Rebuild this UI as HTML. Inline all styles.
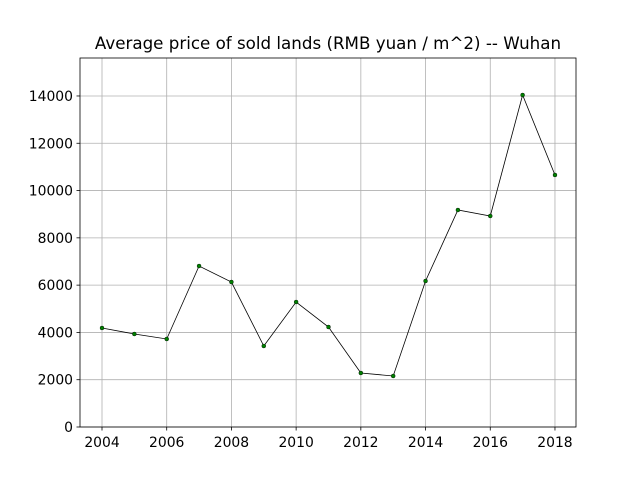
<!DOCTYPE html>
<html><head><meta charset="utf-8"><style>
html,body{margin:0;padding:0;background:#fff;}
svg{display:block;font-family:"DejaVu Sans","Liberation Sans",sans-serif;}
</style></head><body>
<svg id="chart" width="640" height="480"></svg>
<script>
const years = [2004,2005,2006,2007,2008,2009,2010,2011,2012,2013,2014,2015,2016,2017,2018];
const prices = [4187,3933,3722,6809,6132,3426,5286,4229,2284,2157,6175,9177,8924,14041,10658];
const xTicks = [2004,2006,2008,2010,2012,2014,2016,2018];
const yTicks = [0,2000,4000,6000,8000,10000,12000,14000];
const titleText = "Average price of sold lands (RMB yuan / m^2) -- Wuhan";

const L=80,R=576,T=58,B=427;
const xMin=2003.32,xMax=2018.65,yMin=0,yMax=15606;
const sx=v=>L+(v-xMin)/(xMax-xMin)*(R-L);
const sy=v=>B-(v-yMin)/(yMax-yMin)*(B-T);
const NS="http://www.w3.org/2000/svg";
const svg=document.getElementById('chart');
function mk(tag,attrs,parent){const e=document.createElementNS(NS,tag);for(const k in attrs)e.setAttribute(k,attrs[k]);(parent||svg).appendChild(e);return e;}

const grid=mk('g',{});


xTicks.forEach(t=>{const x=sx(t);
  const gl=mk('line',{x1:x,x2:x,y1:T,y2:B,stroke:'#b0b0b0','stroke-width':0.8},grid);
  
  
  mk('line',{x1:x,x2:x,y1:B,y2:B+3.5,stroke:'#000','stroke-width':0.8});
  const tx=mk('text',{x:x,y:B+20,'text-anchor':'middle','font-size':13.9,fill:'#000'});
  tx.textContent=t;
  
  
});
yTicks.forEach(t=>{const y=sy(t);
  const gl=mk('line',{x1:L,x2:R,y1:y,y2:y,stroke:'#b0b0b0','stroke-width':0.8},grid);
  
  
  mk('line',{x1:L-3.5,x2:L,y1:y,y2:y,stroke:'#000','stroke-width':0.8});
  const tx=mk('text',{x:L-7,y:y+5,'text-anchor':'end','font-size':13.9,fill:'#000'});
  tx.textContent=t;
  
  
});

const line=mk('polyline',{points:years.map((y,i)=>sx(y)+','+sy(prices[i])).join(' '),fill:'none',stroke:'#000','stroke-width':0.8});


years.forEach((y,i)=>{
  const c=mk('circle',{cx:sx(y),cy:sy(prices[i]),r:2,fill:'#008000',stroke:'#000','stroke-width':0.4});
  
  
});

const frame=mk('rect',{x:L,y:T,width:R-L,height:B-T,fill:'none',stroke:'#000','stroke-width':0.8});



const title=mk('text',{x:(L+R)/2,y:T-9,'text-anchor':'middle','font-size':16.7,fill:'#000'});
title.textContent=titleText;


</script>
</body></html>
